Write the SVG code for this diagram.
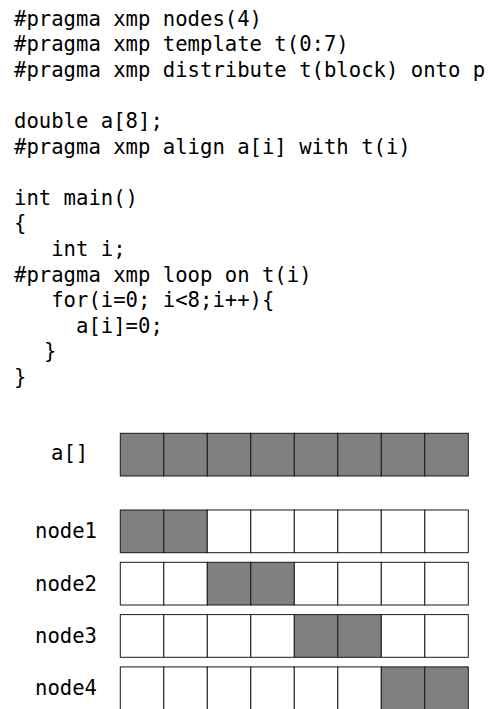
<svg xmlns="http://www.w3.org/2000/svg" width="491" height="709" viewBox="0 0 491 709">
<style>
text{font-family:"DejaVu Sans Mono","Liberation Mono",monospace;font-size:20.6px;fill:#000;white-space:pre}
.f{fill:#808080;stroke:#1a1a1a;stroke-width:1}
.e{fill:#fff;stroke:#1a1a1a;stroke-width:1}
</style>
<rect width="491" height="709" fill="#fff"/>
<g id="code">
<text x="14" y="25.5" xml:space="preserve">#pragma xmp nodes(4)</text>
<text x="14" y="51.1" xml:space="preserve">#pragma xmp template t(0:7)</text>
<text x="14" y="76.7" xml:space="preserve">#pragma xmp distribute t(block) onto p</text>
<text x="14" y="127.9" xml:space="preserve">double a[8];</text>
<text x="14" y="153.5" xml:space="preserve">#pragma xmp align a[i] with t(i)</text>
<text x="14" y="204.7" xml:space="preserve">int main()</text>
<text x="14" y="230.3" xml:space="preserve">{</text>
<text x="14" y="255.9" xml:space="preserve">   int i;</text>
<text x="14" y="281.5" xml:space="preserve">#pragma xmp loop on t(i)</text>
<text x="14" y="307.1" xml:space="preserve">   for(i=0; i&lt;8;i++){</text>
<text x="14" y="332.7" xml:space="preserve">     a[i]=0;</text>
<text x="44" y="358.3">}</text>
<text x="14" y="383.9">}</text>
</g>
<g id="a">
<text x="51" y="460">a[]</text>
<rect class="f" x="120.3" y="433.3" width="43.5" height="42.7"/>
<rect class="f" x="163.8" y="433.3" width="43.5" height="42.7"/>
<rect class="f" x="207.3" y="433.3" width="43.5" height="42.7"/>
<rect class="f" x="250.8" y="433.3" width="43.5" height="42.7"/>
<rect class="f" x="294.3" y="433.3" width="43.5" height="42.7"/>
<rect class="f" x="337.8" y="433.3" width="43.5" height="42.7"/>
<rect class="f" x="381.3" y="433.3" width="43.5" height="42.7"/>
<rect class="f" x="424.8" y="433.3" width="43.5" height="42.7"/>
</g>
<g id="node1">
<text x="35" y="538.3">node1</text>
<rect class="f" x="120.3" y="510" width="43.5" height="42.7"/>
<rect class="f" x="163.8" y="510" width="43.5" height="42.7"/>
<rect class="e" x="207.3" y="510" width="43.5" height="42.7"/>
<rect class="e" x="250.8" y="510" width="43.5" height="42.7"/>
<rect class="e" x="294.3" y="510" width="43.5" height="42.7"/>
<rect class="e" x="337.8" y="510" width="43.5" height="42.7"/>
<rect class="e" x="381.3" y="510" width="43.5" height="42.7"/>
<rect class="e" x="424.8" y="510" width="43.5" height="42.7"/>
</g>
<g id="node2">
<text x="35" y="590.6">node2</text>
<rect class="e" x="120.3" y="562.3" width="43.5" height="42.7"/>
<rect class="e" x="163.8" y="562.3" width="43.5" height="42.7"/>
<rect class="f" x="207.3" y="562.3" width="43.5" height="42.7"/>
<rect class="f" x="250.8" y="562.3" width="43.5" height="42.7"/>
<rect class="e" x="294.3" y="562.3" width="43.5" height="42.7"/>
<rect class="e" x="337.8" y="562.3" width="43.5" height="42.7"/>
<rect class="e" x="381.3" y="562.3" width="43.5" height="42.7"/>
<rect class="e" x="424.8" y="562.3" width="43.5" height="42.7"/>
</g>
<g id="node3">
<text x="35" y="642.9">node3</text>
<rect class="e" x="120.3" y="614.6" width="43.5" height="42.7"/>
<rect class="e" x="163.8" y="614.6" width="43.5" height="42.7"/>
<rect class="e" x="207.3" y="614.6" width="43.5" height="42.7"/>
<rect class="e" x="250.8" y="614.6" width="43.5" height="42.7"/>
<rect class="f" x="294.3" y="614.6" width="43.5" height="42.7"/>
<rect class="f" x="337.8" y="614.6" width="43.5" height="42.7"/>
<rect class="e" x="381.3" y="614.6" width="43.5" height="42.7"/>
<rect class="e" x="424.8" y="614.6" width="43.5" height="42.7"/>
</g>
<g id="node4">
<text x="35" y="695.2">node4</text>
<rect class="e" x="120.3" y="666.9" width="43.5" height="42.7"/>
<rect class="e" x="163.8" y="666.9" width="43.5" height="42.7"/>
<rect class="e" x="207.3" y="666.9" width="43.5" height="42.7"/>
<rect class="e" x="250.8" y="666.9" width="43.5" height="42.7"/>
<rect class="e" x="294.3" y="666.9" width="43.5" height="42.7"/>
<rect class="e" x="337.8" y="666.9" width="43.5" height="42.7"/>
<rect class="f" x="381.3" y="666.9" width="43.5" height="42.7"/>
<rect class="f" x="424.8" y="666.9" width="43.5" height="42.7"/>
</g>
<g id="connectors"/>
</svg>
